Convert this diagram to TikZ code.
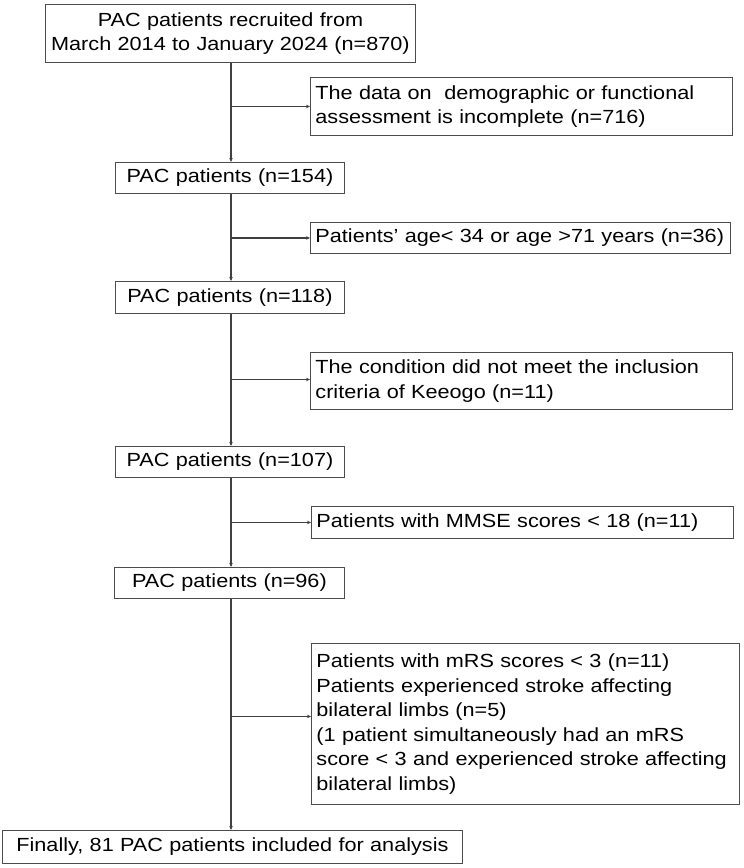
\documentclass[tikz,border=0pt]{standalone}
\usepackage{fontspec}
\setmainfont{Liberation Sans}[FakeStretch=1.14]
\usetikzlibrary{arrows.meta,calc}
\begin{document}
\begin{tikzpicture}[x=1pt,y=-1pt,
  box/.style={draw=black!70,line width=0.9pt,inner xsep=5pt,inner ysep=0pt,
    font=\fontsize{19}{24.5}\selectfont,anchor=north west},
  arr/.style={draw=black!75,line width=1.1pt,-{Stealth[length=4pt,width=3.5pt]}}]
\useasboundingbox (0,0) rectangle (744,868);
\fill[white] (0,0) rectangle (744,868);
\coordinate (spine) at (231,0);
% main column
\node[box,align=center,text width=360pt,minimum height=58pt] (b1) at (45,4)
  {PAC patients recruited from\\March 2014 to January 2024 (n=870)};
\node[box,align=center,text width=219pt,minimum height=31pt] (b2) at (115,162)
  {PAC patients (n=154)};
\node[box,align=center,text width=219pt,minimum height=32pt] (b3) at (115,281)
  {PAC patients (n=118)};
\node[box,align=center,text width=219pt,minimum height=31pt] (b4) at (115,446)
  {PAC patients (n=107)};
\node[box,align=center,text width=220pt,minimum height=31pt] (b5) at (114,567)
  {PAC patients (n=96)};
\node[box,align=center,text width=450pt,minimum height=33pt] (b6) at (2,830)
  {Finally, 81 PAC patients included for analysis};
% exclusion boxes
\node[box,align=left,text width=412pt,minimum height=58pt] (e1) at (310,77)
  {The data on\ \ demographic or functional\\assessment is incomplete (n=716)};
\node[box,align=left,text width=410pt,minimum height=31pt] (e2) at (310,222)
  {Patients’ age< 34 or age >71 years (n=36)};
\node[box,align=left,text width=412pt,minimum height=57pt] (e3) at (310,352)
  {The condition did not meet the inclusion\\criteria of Keeogo (n=11)};
\node[box,align=left,text width=412pt,minimum height=32pt] (e4) at (311,506)
  {Patients with MMSE scores < 18 (n=11)};
\node[box,align=left,text width=418pt,minimum height=161pt] (e5) at (311,643)
  {Patients with mRS scores < 3 (n=11)\\Patients experienced stroke affecting\\bilateral limbs (n=5)\\(1 patient simultaneously had an mRS\\score < 3 and experienced stroke affecting\\bilateral limbs)};
% spine connectors
\draw[arr] (b1.south -| spine) -- (b2.north -| spine);
\draw[arr] (b2.south -| spine) -- (b3.north -| spine);
\draw[arr] (b3.south -| spine) -- (b4.north -| spine);
\draw[arr] (b4.south -| spine) -- (b5.north -| spine);
\draw[arr] (b5.south -| spine) -- (b6.north -| spine);
% branches
\draw[arr] (e1.west -| spine) -- (e1.west);
\draw[arr] (e2.west -| spine) -- (e2.west);
\draw[arr] ([yshift=1.5pt]e3.west -| spine) -- ([yshift=1.5pt]e3.west);
\draw[arr] (e4.west -| spine) -- (e4.west);
\draw[arr] ([yshift=7.5pt]e5.west -| spine) -- ([yshift=7.5pt]e5.west);
\end{tikzpicture}
\end{document}
